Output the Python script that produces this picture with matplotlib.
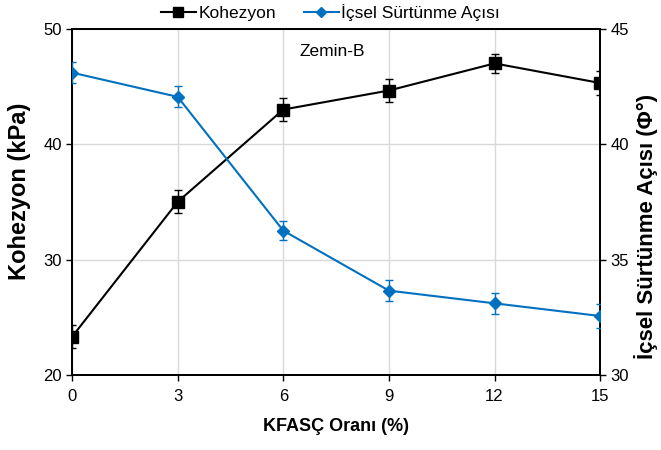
import matplotlib.pyplot as plt
from matplotlib.lines import Line2D

plt.rcParams["font.family"] = ["Liberation Sans", "DejaVu Sans"]

# data
oran = [0, 3, 6, 9, 12, 15]
kohezyon = [23.3, 35.0, 43.0, 44.65, 47.0, 45.3]
kohezyon_err = [1.0, 1.0, 1.0, 1.0, 0.85, 1.0]
aci = [43.1, 42.05, 36.25, 33.65, 33.1, 32.55]
aci_err = [0.45, 0.45, 0.4, 0.45, 0.45, 0.5]

siyah = "#000000"
mavi = "#0070C0"

fig = plt.figure(figsize=(6.61, 4.5), dpi=100)
ax = fig.add_axes([0.109, 0.167, 0.799, 0.769])
ax2 = ax.twinx()

ax.errorbar(oran, kohezyon, yerr=kohezyon_err, color=siyah, marker="s", markersize=8,
            lw=1.5, capsize=3, elinewidth=1, capthick=1, zorder=3)
ax2.errorbar(oran, aci, yerr=aci_err, color=mavi, marker="D", markersize=6,
             lw=1.5, capsize=3, elinewidth=1, capthick=1, zorder=3)

ax.set_xlim(0, 15)
ax.set_ylim(20, 50)
ax2.set_ylim(30, 45)
ax.set_xticks(oran)
ax.set_yticks([20, 30, 40, 50])
ax2.set_yticks([30, 35, 40, 45])

ax.grid(True, color="#d9d9d9", lw=1)
ax.set_axisbelow(True)
for a in (ax, ax2):
    a.tick_params(direction="out", length=4, labelsize=12, width=1)
    for s in a.spines.values():
        s.set_linewidth(1.3)
ax.tick_params(axis="x", pad=6)

ax.set_xlabel("KFASÇ Oranı (%)", fontsize=13, fontweight="bold", labelpad=10)
ax.set_ylabel("Kohezyon (kPa)", fontsize=17, fontweight="bold")
ax2.set_ylabel("İçsel Sürtünme Açısı (Φ°)", fontsize=16, fontweight="bold")
ax.yaxis.set_label_coords(-0.078, 0.53)
ax2.yaxis.set_label_coords(1.064, 0.43)

ax.text(7.4, 0.935, "Zemin-B", transform=ax.get_xaxis_transform(), fontsize=12.5, ha="center", va="center")

h1 = Line2D([], [], color=siyah, marker="s", markersize=7, lw=1.5)
h2 = Line2D([], [], color=mavi, marker="D", markersize=5, lw=1.5)
fig.legend([h1, h2], ["Kohezyon", "İçsel Sürtünme Açısı"], loc="center", bbox_to_anchor=(0.5, 0.972),
           ncol=2, frameon=False, fontsize=12.5, handlelength=2.0, handletextpad=0.15, columnspacing=1.6)

fig.savefig("out.png", dpi=100)
